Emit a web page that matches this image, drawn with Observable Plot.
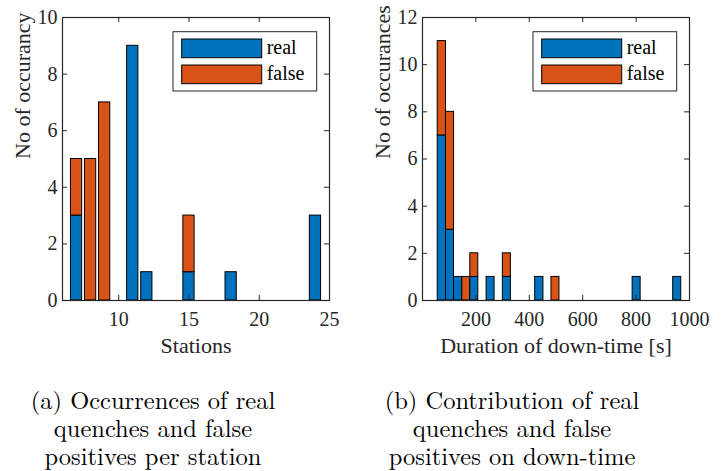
<!DOCTYPE html>
<html><head><meta charset="utf-8">
<script src="https://cdn.jsdelivr.net/npm/d3@7"></script>
<script src="https://cdn.jsdelivr.net/npm/@observablehq/plot@0.6"></script>
<style>
body{margin:0;background:#fff;}
#wrap{position:relative;width:727px;height:471px;overflow:hidden;background:#fff;}
.panel{position:absolute;top:0;}
</style></head><body>
<div id="wrap">
<div id="pa" class="panel" style="left:0px"></div>
<div id="pb" class="panel" style="left:360px"></div>
<div style="position:absolute;top:385px;left:-7px;width:320px;text-align:center;font-family:'Latin Modern Roman',Tinos,monospace;font-size:24.5px;line-height:28px;color:#000">(a) Occurrences of real<br>quenches and false<br>positives per station</div>
<div style="position:absolute;top:385px;left:352px;width:320px;text-align:center;font-family:'Latin Modern Roman',Tinos,monospace;font-size:24.5px;line-height:28px;color:#000">(b) Contribution of real<br>quenches and false<br>positives on down-time</div>
</div>
<script>
// ---- data ----
const seriesNames = ["real", "false"];
const seriesColors = ["#0072BD", "#D95319"];

const stations     = [7, 8, 9, 10, 11, 12, 13, 14, 15, 16, 17, 18, 19, 20, 21, 22, 23, 24];
const stationReal  = [3, 0, 0, 0, 9, 1, 0, 0, 1, 0, 0, 1, 0, 0, 0, 0, 0, 3];
const stationFalse = [2, 5, 7, 0, 0, 0, 0, 0, 2, 0, 0, 0, 0, 0, 0, 0, 0, 0];
const stationTicksX = [10, 15, 20, 25];
const stationTicksY = [0, 2, 4, 6, 8, 10];

const durationEdges = [57, 88, 118, 149, 179, 209, 240, 270, 301, 331, 361, 392, 422, 453, 483, 513,
                       544, 574, 605, 635, 665, 696, 726, 757, 787, 817, 848, 878, 909, 939, 969];
const durationReal  = [7, 3, 1, 0, 1, 0, 1, 0, 1, 0, 0, 0, 1, 0, 0, 0, 0, 0, 0, 0, 0, 0, 0, 0, 1, 0, 0, 0, 0, 1];
const durationFalse = [4, 5, 0, 1, 1, 0, 0, 0, 1, 0, 0, 0, 0, 0, 1, 0, 0, 0, 0, 0, 0, 0, 0, 0, 0, 0, 0, 0, 0, 0];
const durationTicksX = [200, 400, 600, 800, 1000];
const durationTicksY = [0, 2, 4, 6, 8, 10, 12];

// ---- helpers ----
const AX = "#262626";
const FONT = "Tinos";

function stackedRows(x1s, x2s, real, fals) {
  const rows = [];
  real.forEach((r, i) => {
    rows.push({x1: x1s[i], x2: x2s[i], y1: 0, y2: r, series: "real"});
    rows.push({x1: x1s[i], x2: x2s[i], y1: r, y2: r + fals[i], series: "false"});
  });
  return rows;
}

function makePanel({rows, xDomain, yDomain, ticksX, ticksY, xLabel, yLabel, width, mr}) {
  const height = 360, ml = 62, mt = 17, mb = 60;
  const innerW = width - ml - mr, innerH = height - mt - mb;
  const plot = Plot.plot({
    width, height,
    marginLeft: ml, marginRight: mr, marginTop: mt, marginBottom: mb,
    style: {fontFamily: FONT, fontSize: "20px", color: AX, background: "transparent", overflow: "visible"},
    x: {domain: xDomain, label: null},
    y: {domain: yDomain, label: null},
    color: {domain: seriesNames, range: seriesColors},
    marks: [
      Plot.rect(rows, {x1: "x1", x2: "x2", y1: "y1", y2: "y2", fill: "series", stroke: "black", strokeWidth: 1}),
      Plot.tickX(ticksX, {x: d => d, insetTop: innerH - 5, stroke: AX, strokeWidth: 1}),
      Plot.tickX(ticksX, {x: d => d, insetBottom: innerH - 5, stroke: AX, strokeWidth: 1}),
      Plot.tickY(ticksY, {y: d => d, insetRight: innerW - 5, stroke: AX, strokeWidth: 1}),
      Plot.tickY(ticksY, {y: d => d, insetLeft: innerW - 5, stroke: AX, strokeWidth: 1}),
      Plot.axisX({ticks: ticksX, anchor: "bottom", tickSize: 0, tickPadding: 11, label: null, fontSize: 20, fontFamily: FONT, fill: AX, tickFormat: d => String(d)}),
      Plot.axisY({ticks: ticksY, anchor: "left", tickSize: 0, tickPadding: 5, label: null, fontSize: 20, fontFamily: FONT, fill: AX, tickFormat: d => String(d)}),
      Plot.text([xLabel], {text: d => d, frameAnchor: "bottom", dy: 45, lineAnchor: "middle", fontSize: 22, fontFamily: FONT, fill: AX}),
      Plot.text([yLabel], {text: d => d, frameAnchor: "left", dx: -40, rotate: -90, lineAnchor: "middle", fontSize: 22, fontFamily: FONT, fill: AX}),
      Plot.frame({stroke: AX, strokeWidth: 1.2})
    ]
  });
  // legend
  const svg = d3.select(plot);
  const frameRight = width - mr;
  const bx = frameRight - 156, by = mt + 14.7;
  const g = svg.append("g").attr("text-anchor", "start");
  g.append("rect").attr("x", bx).attr("y", by).attr("width", 143.7).attr("height", 59.3)
    .attr("fill", "white").attr("stroke", AX).attr("stroke-width", 1);
  seriesNames.forEach((name, i) => {
    g.append("rect").attr("x", bx + 8.7).attr("y", by + 7.3 + i * 26).attr("width", 80).attr("height", 18.7)
      .attr("fill", seriesColors[i]).attr("stroke", "black").attr("stroke-width", 1);
    g.append("text").attr("x", bx + 93.7).attr("y", by + 16.3 + i * 26).attr("dy", "0.32em")
      .attr("text-anchor", "start").attr("font-family", FONT)
      .attr("font-size", 20).attr("fill", "#000").text(name);
  });
  return plot;
}

const rowsA = stackedRows(stations.map(s => s - 0.4), stations.map(s => s + 0.4), stationReal, stationFalse);
const rowsB = stackedRows(durationEdges.slice(0, -1), durationEdges.slice(1), durationReal, durationFalse);

document.getElementById("pa").appendChild(makePanel({
  rows: rowsA, xDomain: [6, 25], yDomain: [0, 10], ticksX: stationTicksX, ticksY: stationTicksY,
  xLabel: "Stations", yLabel: "No of occurancy", width: 363, mr: 34
}));
document.getElementById("pb").appendChild(makePanel({
  rows: rowsB, xDomain: [0, 1000], yDomain: [0, 12], ticksX: durationTicksX, ticksY: durationTicksY,
  xLabel: "Duration of down-time [s]", yLabel: "No of occurances", width: 367, mr: 38
}));
</script>
</body></html>
